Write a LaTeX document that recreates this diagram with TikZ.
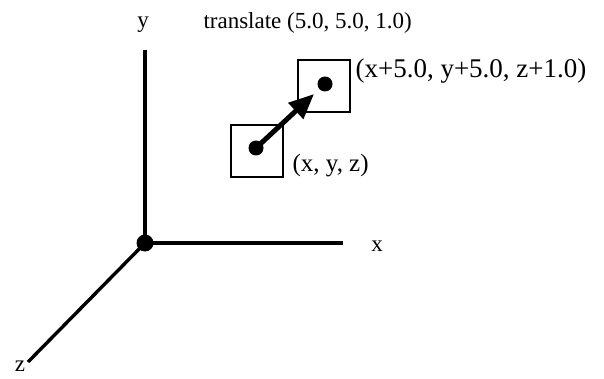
\documentclass[tikz,border=0pt]{standalone}
\usepackage{fontspec}
\setmainfont{Liberation Serif}
\usetikzlibrary{positioning, arrows.meta}

\begin{document}
\begin{tikzpicture}[
  x=1pt, y=-1pt,
  font=\fontsize{23}{27}\selectfont,
  axis/.style={line width=3.4pt},
  ptbox/.style={draw, line width=2.8pt, minimum size=52pt, inner sep=0pt},
  dot/.style={circle, fill, inner sep=0pt, minimum size=15pt},
  arr/.style={-{Triangle[length=25pt, width=21pt]}, line width=5pt}
]
\useasboundingbox (0,0) rectangle (604,379);

% axes
\node[dot, minimum size=17pt] (o) at (145,243) {};
\coordinate (ytop) at (145,50);
\coordinate (xend) at (343,243);
\coordinate (zend) at (28,362);
\draw[axis] (o.center) -- (ytop);
\draw[axis] (o.center) -- (xend);
\draw[axis] (o.center) -- (zend);
\node (ylab) at (143,25) {y};
\node (xlab) at (377,246) {x};
\node (zlab) at (20,366) {z};

% points
\node[ptbox] (b1) at (257,151) {};
\node[ptbox] (b2) at (324,86) {};
\node[dot] (p1) at (256,148) {};
\node[dot] (p2) at (325,84) {};
\draw[arr] (p1.center) -- ([shift={(-11pt,-10pt)}]p2.center);

\node[anchor=west] (tr) at (200,23) {translate (5.0, 5.0, 1.0)};
\node[anchor=west, font=\fontsize{27}{31}\selectfont] (l2) at (352,71) {(x+5.0, y+5.0, z+1.0)};
\node[anchor=west, font=\fontsize{25}{29}\selectfont] (l1) at (289,166) {(x, y, z)};
\end{tikzpicture}
\end{document}
